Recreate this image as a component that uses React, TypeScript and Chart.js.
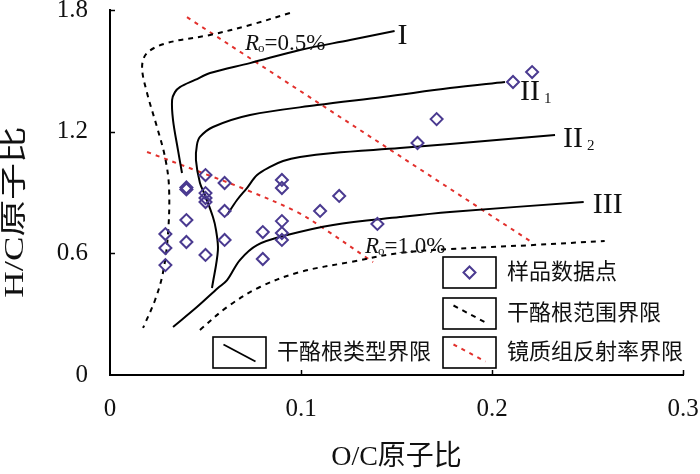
import React, { useEffect, useRef } from "react";
import { Chart, registerables } from "chart.js";

Chart.register(...registerables);

// ---------- data ----------
const sampleOC = [0.211, 0.221, 0.171, 0.161, 0.04, 0.04, 0.05, 0.06, 0.09, 0.09, 0.05, 0.05, 0.05, 0.12, 0.11, 0.06, 0.04, 0.09, 0.14, 0.029, 0.08, 0.09, 0.09, 0.04, 0.06, 0.029, 0.05, 0.029, 0.08];
const sampleHC = [1.445, 1.494, 1.262, 1.144, 0.925, 0.915, 0.986, 0.947, 0.962, 0.922, 0.897, 0.873, 0.853, 0.883, 0.809, 0.809, 0.764, 0.759, 0.745, 0.695, 0.705, 0.7, 0.666, 0.656, 0.666, 0.626, 0.592, 0.542, 0.572];

const typeI_OC = [0.0377, 0.0356, 0.033, 0.0325, 0.034, 0.0366, 0.0445, 0.0524, 0.0733, 0.0995, 0.1257, 0.149];
const typeI_HC = [0.996, 1.109, 1.257, 1.356, 1.395, 1.42, 1.455, 1.489, 1.538, 1.603, 1.652, 1.696];

const typeII1_OC = [0.0534, 0.0565, 0.0555, 0.0539, 0.0497, 0.0471, 0.045, 0.0455, 0.0471, 0.0539, 0.0733, 0.1084, 0.143, 0.178, 0.2068];
const typeII1_HC = [0.429, 0.616, 0.715, 0.779, 0.888, 0.947, 1.06, 1.134, 1.174, 1.223, 1.282, 1.331, 1.371, 1.415, 1.445];

const typeII2_OC = [0.0613, 0.0665, 0.0717, 0.077, 0.0838, 0.0906, 0.0995, 0.1168, 0.1518, 0.178, 0.233];
const typeII2_HC = [0.789, 0.863, 0.922, 0.986, 1.026, 1.055, 1.075, 1.095, 1.119, 1.139, 1.183];

const typeIII_OC = [0.033, 0.0455, 0.0565, 0.0613, 0.068, 0.077, 0.0927, 0.1168, 0.1518, 0.178, 0.248];
const typeIII_HC = [0.237, 0.335, 0.429, 0.468, 0.567, 0.641, 0.69, 0.74, 0.779, 0.804, 0.853];

const rangeUpper_OC = [0.0942, 0.0733, 0.0524, 0.0298, 0.0194, 0.0168, 0.0194, 0.0246, 0.0288, 0.0309, 0.0304, 0.0277, 0.0236, 0.0173];
const rangeUpper_HC = [1.785, 1.726, 1.677, 1.637, 1.588, 1.519, 1.391, 1.223, 1.075, 0.927, 0.7, 0.503, 0.37, 0.232];

const rangeLower_OC = [0.0471, 0.0613, 0.0785, 0.0995, 0.1257, 0.1518, 0.178, 0.2215, 0.259];
const rangeLower_HC = [0.222, 0.335, 0.434, 0.508, 0.557, 0.602, 0.621, 0.641, 0.661];

const ro05_OC = [0.0403, 0.2215];
const ro05_HC = [1.765, 0.651];

const ro10_OC = [0.0194, 0.0471, 0.0717, 0.0979, 0.1115, 0.1377];
const ro10_HC = [1.1, 1.001, 0.912, 0.804, 0.725, 0.557];

const xTicks = [0, 0.1, 0.2, 0.3];
const yTicks = [0, 0.6, 1.2, 1.8];

const xTitle = "O/C原子比";
const yTitle = "H/C原子比";
const legendLabels = ["样品数据点", "干酪根范围界限", "镜质组反射率界限", "干酪根类型界限"];
const roValues = ["0.5%", "1.0%"];
const typeNames = ["I", "II", "II", "III"];
const typeSubs = ["", "1", "2", ""];

// ---------- helpers ----------
const zip = (xs: number[], ys: number[]) => xs.map((x, i) => ({ x, y: ys[i] }));

const SERIF = "'Liberation Serif', 'Times New Roman', 'Noto Sans CJK SC', serif";
const CJK = "'Liberation Serif', 'Noto Sans CJK SC', serif";
const PURPLE = "#4a3a90";
const RED = "#e2302c";

function drawDiamond(ctx: CanvasRenderingContext2D, cx: number, cy: number, r: number) {
  ctx.beginPath();
  ctx.moveTo(cx, cy - r);
  ctx.lineTo(cx + r, cy);
  ctx.lineTo(cx, cy + r);
  ctx.lineTo(cx - r, cy);
  ctx.closePath();
  ctx.stroke();
}

const decorPlugin = {
  id: "decor",
  afterDraw(chart: any) {
    const { ctx, chartArea, scales } = chart;
    const xs = scales.x;
    const ys = scales.y;
    ctx.save();

    // inward ticks
    ctx.strokeStyle = "#000";
    ctx.lineWidth = 1.5;
    xTicks.forEach((v) => {
      if (v === 0) return;
      const px = Math.round(xs.getPixelForValue(v)) + 0.5;
      ctx.beginPath();
      ctx.moveTo(px, chartArea.bottom);
      ctx.lineTo(px, chartArea.bottom - 5);
      ctx.stroke();
    });
    yTicks.forEach((v) => {
      if (v === 0) return;
      const py = Math.round(ys.getPixelForValue(v)) + 0.5;
      ctx.beginPath();
      ctx.moveTo(chartArea.left, py);
      ctx.lineTo(chartArea.left + 5, py);
      ctx.stroke();
    });

    // y title (stretched along its length as in the reference)
    ctx.save();
    ctx.fillStyle = "#111";
    ctx.font = `27px ${CJK}`;
    ctx.textBaseline = "middle";
    ctx.textAlign = "center";
    ctx.translate(16, 212);
    ctx.rotate(-Math.PI / 2);
    ctx.scale(1.36, 1);
    ctx.fillText(yTitle, 0, 0);
    ctx.restore();

    // type labels near curve ends
    const ends = [typeI_OC, typeII1_OC, typeII2_OC, typeIII_OC].map((arr, i) => {
      const yArr = [typeI_HC, typeII1_HC, typeII2_HC, typeIII_HC][i];
      return { x: xs.getPixelForValue(arr[arr.length - 1]), y: ys.getPixelForValue(yArr[yArr.length - 1]) };
    });
    const offs = [
      [3, 13],
      [15, 18],
      [8, 12],
      [9, 11],
    ];
    ctx.fillStyle = "#111";
    ctx.textBaseline = "alphabetic";
    ctx.textAlign = "left";
    typeNames.forEach((name, i) => {
      ctx.font = `30px ${SERIF}`;
      const lx = ends[i].x + offs[i][0];
      const ly = ends[i].y + offs[i][1];
      ctx.fillText(name, lx, ly);
      if (typeSubs[i]) {
        const w = ctx.measureText(name).width;
        ctx.font = `15px ${SERIF}`;
        ctx.fillText(typeSubs[i], lx + w + 4, ly + 3);
      }
    });

    // Ro labels
    const roPos = [
      { x: 0.0707, y: 1.603 },
      { x: 0.1335, y: 0.602 },
    ];
    roValues.forEach((val, i) => {
      let px = xs.getPixelForValue(roPos[i].x);
      const py = ys.getPixelForValue(roPos[i].y);
      ctx.font = `italic 23px ${SERIF}`;
      ctx.fillText("R", px, py);
      px += ctx.measureText("R").width - 1;
      ctx.font = `13px ${SERIF}`;
      ctx.fillText("o", px, py + 2);
      px += ctx.measureText("o").width;
      ctx.font = `23px ${SERIF}`;
      ctx.fillText("=" + val, px, py);
    });

    // legend
    const boxes = [
      { x: 443, y: 257 },
      { x: 443, y: 298 },
      { x: 443, y: 337 },
      { x: 213, y: 337 },
    ];
    const bw = 53;
    const bh = 31;
    boxes.forEach((b, i) => {
      ctx.fillStyle = "#fff";
      ctx.fillRect(b.x, b.y, bw, bh);
      ctx.strokeStyle = "#000";
      ctx.lineWidth = 1.6;
      ctx.setLineDash([]);
      ctx.strokeRect(b.x, b.y, bw, bh);
      const cx0 = b.x + bw / 2;
      const cy0 = b.y + bh / 2;
      if (i === 0) {
        ctx.strokeStyle = PURPLE;
        ctx.lineWidth = 2;
        drawDiamond(ctx, cx0, cy0, 6);
      } else {
        ctx.lineWidth = i === 3 ? 1.8 : 2;
        ctx.strokeStyle = i === 2 ? RED : "#000";
        ctx.setLineDash(i === 3 ? [] : i === 1 ? [5, 5] : [4, 5]);
        ctx.beginPath();
        ctx.moveTo(cx0 - 16, cy0 - 8);
        ctx.lineTo(cx0 + 16, cy0 + 9);
        ctx.stroke();
        ctx.setLineDash([]);
      }
      ctx.fillStyle = "#111";
      ctx.font = `22px ${CJK}`;
      ctx.textBaseline = "middle";
      ctx.textAlign = "left";
      ctx.fillText(legendLabels[i], b.x + bw + 11, cy0 + 1);
    });

    ctx.restore();
  },
};

export default function App() {
  const ref = useRef<HTMLCanvasElement | null>(null);

  useEffect(() => {
    if (!ref.current) return;
    const lineDs = (data: { x: number; y: number }[], color: string, dash: number[], width = 2) => ({
      data,
      showLine: true,
      borderColor: color,
      borderWidth: width,
      borderDash: dash,
      pointRadius: 0,
      pointHoverRadius: 0,
      tension: 0.35,
      fill: false,
    });

    const chart = new Chart(ref.current, {
      type: "scatter",
      data: {
        datasets: [
          {
            label: legendLabels[0],
            data: zip(sampleOC, sampleHC),
            pointStyle: "rectRot",
            pointRadius: 6,
            pointBorderColor: PURPLE,
            pointBackgroundColor: "rgba(255,255,255,0)",
            pointBorderWidth: 2,
            borderColor: PURPLE,
          } as any,
          lineDs(zip(typeI_OC, typeI_HC), "#000", []),
          lineDs(zip(typeII1_OC, typeII1_HC), "#000", []),
          lineDs(zip(typeII2_OC, typeII2_HC), "#000", []),
          lineDs(zip(typeIII_OC, typeIII_HC), "#000", []),
          lineDs(zip(rangeUpper_OC, rangeUpper_HC), "#000", [5, 5]),
          lineDs(zip(rangeLower_OC, rangeLower_HC), "#000", [5, 5]),
          lineDs(zip(ro05_OC, ro05_HC), RED, [4, 5]),
          lineDs(zip(ro10_OC, ro10_HC), RED, [4, 5]),
        ],
      },
      options: {
        animation: false,
        responsive: false,
        layout: { padding: { top: 10, right: 17, left: 0, bottom: 0 } },
        plugins: { legend: { display: false }, tooltip: { enabled: false } },
        scales: {
          x: {
            type: "linear",
            min: 0,
            max: 0.3,
            grid: { display: false, drawTicks: false },
            border: { display: true, color: "#000", width: 2 },
            ticks: {
              color: "#111",
              padding: 19,
              font: { family: SERIF, size: 25 },
              callback: (v: any) => (Number(v) === 0 ? "0" : Number(v).toFixed(1)),
            },
            afterBuildTicks: (s: any) => {
              s.ticks = xTicks.map((value) => ({ value }));
            },
            afterFit: (s: any) => {
              s.height = 99;
              s.paddingLeft = 0;
              s.paddingRight = 0;
            },
            title: {
              display: true,
              text: xTitle,
              color: "#111",
              padding: { top: 0, bottom: 0 },
              font: { family: CJK, size: 28 },
            },
          },
          y: {
            type: "linear",
            min: 0,
            max: 1.8,
            grid: { display: false, drawTicks: false },
            border: { display: true, color: "#000", width: 2 },
            ticks: {
              color: "#111",
              padding: 22,
              font: { family: SERIF, size: 25 },
              callback: (v: any) => (Number(v) === 0 ? "0" : Number(v).toFixed(1)),
            },
            afterBuildTicks: (s: any) => {
              s.ticks = yTicks.map((value) => ({ value }));
            },
            afterFit: (s: any) => {
              s.width = 110;
              s.paddingTop = 0;
              s.paddingBottom = 0;
            },
          },
        },
      },
      plugins: [decorPlugin],
    });
    return () => chart.destroy();
  }, []);

  return (
    <div style={{ position: "fixed", left: 0, top: 0, width: 700, height: 474, background: "#fff" }}>
      <canvas ref={ref} width={700} height={474} style={{ width: 700, height: 474, display: "block" }} />
    </div>
  );
}
